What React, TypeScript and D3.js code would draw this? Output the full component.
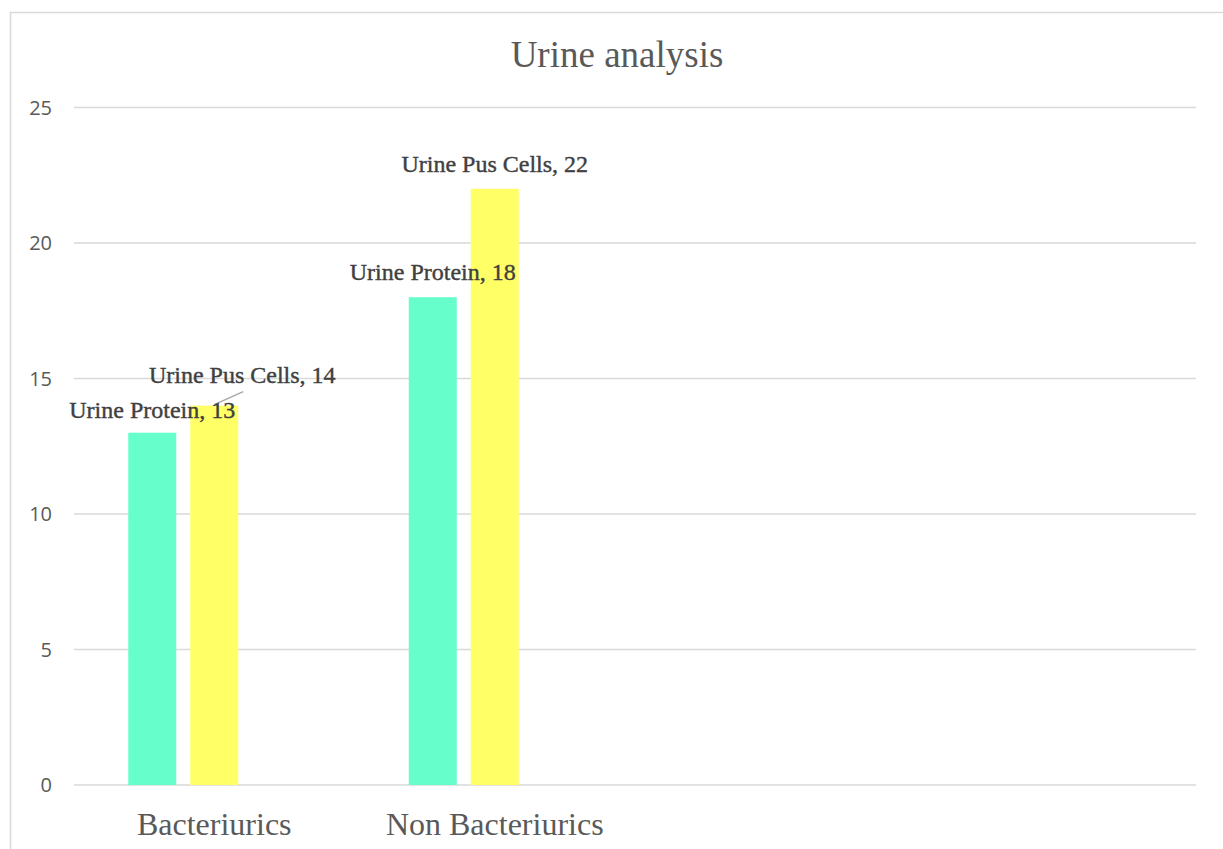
import React from "react";
import * as d3 from "d3";

// Chart data
const categories = ["Bacteriurics", "Non Bacteriurics", "", ""];
const seriesNames = ["Urine Protein", "Urine Pus Cells"];
const proteinValues = [13, 18];
const pusCellValues = [14, 22];
const seriesSlots = 3; // the category group reserves room for a third (empty) series
const yTicks = [0, 5, 10, 15, 20, 25];

const W = 1223;
const H = 849;
const plot = { left: 74, right: 1196, top: 107.5, bottom: 785 };

const colors = ["#66FFCC", "#FFFF66"];
const serif = "'Liberation Serif', 'Times New Roman', serif";
const sans = "'Open Sans', 'Liberation Sans', sans-serif";

export default function App() {
  const x = d3
    .scaleBand<number>()
    .domain(d3.range(categories.length))
    .range([plot.left, plot.right])
    .paddingInner(0)
    .paddingOuter(0);

  const inner = d3
    .scaleBand<number>()
    .domain(d3.range(seriesSlots))
    .range([0, x.bandwidth()])
    .paddingInner(0.2258)
    .paddingOuter(0.875);

  const y = d3.scaleLinear().domain([0, 25]).range([plot.bottom, plot.top]);

  const series = [proteinValues, pusCellValues];

  // label placement relative to the top-centre of each bar
  const labelOffsets: Record<string, { dx: number; dy: number }> = {
    "0-0": { dx: 0, dy: -15 },
    "1-0": { dx: 28, dy: -23 },
    "0-1": { dx: 0, dy: -17 },
    "1-1": { dx: 0, dy: -17 },
  };

  return (
    <svg
      width={W}
      height={H}
      style={{ position: "absolute", left: 0, top: 0, background: "#fff" }}
    >
      {/* chart area frame */}
      <rect x={10.5} y={12.5} width={1400} height={1000} fill="#fff" stroke="#d9d9d9" strokeWidth={1.5} />

      <text
        x={617}
        y={67}
        textAnchor="middle"
        fontFamily={serif}
        fontSize={37}
        fill="#595959"
      >
        Urine analysis
      </text>

      {/* gridlines and y tick labels */}
      {yTicks.map((t) => (
        <g key={t}>
          <line
            x1={plot.left}
            x2={plot.right}
            y1={y(t)}
            y2={y(t)}
            stroke="#d9d9d9"
            strokeWidth={1.5}
          />
          <text
            x={52}
            y={y(t)}
            dy="0.35em"
            textAnchor="end"
            fontFamily={sans}
            fontSize={20}
            fill="#595959"
          >
            {t}
          </text>
        </g>
      ))}

      {/* bars */}
      {series.map((vals, s) =>
        vals.map((v, c) => (
          <rect
            key={`${s}-${c}`}
            x={(x(c) as number) + (inner(s) as number)}
            y={y(v)}
            width={inner.bandwidth()}
            height={y(0) - y(v)}
            fill={colors[s]}
          />
        ))
      )}

      {/* leader line for the displaced label */}
      {(() => {
        const cx = (x(0) as number) + (inner(1) as number) + inner.bandwidth() / 2;
        const top = y(pusCellValues[0]);
        return (
          <line
            x1={cx}
            y1={top - 1}
            x2={cx + 29}
            y2={top - 14}
            stroke="#a6a6a6"
            strokeWidth={1.3}
          />
        );
      })()}

      {/* data labels */}
      {series.map((vals, s) =>
        vals.map((v, c) => {
          const off = labelOffsets[`${s}-${c}`];
          const cx = (x(c) as number) + (inner(s) as number) + inner.bandwidth() / 2;
          return (
            <text
              key={`l${s}-${c}`}
              x={cx + off.dx}
              y={y(v) + off.dy}
              textAnchor="middle"
              fontFamily={serif}
              fontSize={24}
              fill="#404040"
              stroke="#404040"
              strokeWidth={0.4}
            >
              {`${seriesNames[s]}, ${v}`}
            </text>
          );
        })
      )}

      {/* category labels */}
      {categories.map((c, i) =>
        c ? (
          <text
            key={i}
            x={(x(i) as number) + x.bandwidth() / 2}
            y={835}
            textAnchor="middle"
            fontFamily={serif}
            fontSize={32}
            fill="#595959"
          >
            {c}
          </text>
        ) : null
      )}
    </svg>
  );
}
